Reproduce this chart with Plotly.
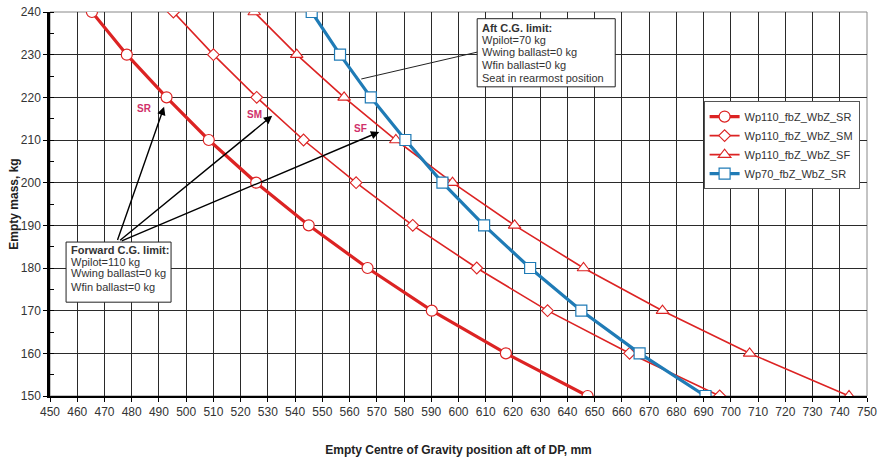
import plotly.graph_objects as go

mass = [240, 230, 220, 210, 200, 190, 180, 170, 160, 150]
cg_sr = [465.4, 478.2, 492.8, 508.3, 525.7, 545.0, 566.6, 590.2, 617.4, 647.4]
cg_sm = [495.3, 510.0, 525.9, 543.1, 562.4, 583.2, 606.7, 632.7, 662.8, 695.9]
cg_sf = [525.0, 540.6, 558.0, 577.0, 597.8, 620.6, 645.9, 674.9, 706.9, 743.4]
cg_70 = [546.1, 556.5, 567.8, 580.5, 594.1, 609.4, 626.3, 645.1, 666.5, 690.7]

names = ["Wp110_fbZ_WbZ_SR", "Wp110_fbZ_WbZ_SM", "Wp110_fbZ_WbZ_SF", "Wp70_fbZ_WbZ_SR"]
x_ticks = list(range(450, 751, 10))
y_ticks = list(range(150, 241, 10))

fwd_lines = ["<b>Forward C.G. limit:</b>", "Wpilot=110 kg", "Wwing ballast=0 kg", "Wfin ballast=0 kg"]
aft_lines = ["<b>Aft C.G. limit:</b>", "Wpilot=70 kg", "Wwing ballast=0 kg", "Wfin ballast=0 kg",
             "Seat in rearmost position"]

RED = "#dc2323"
BLUE = "#1f7bb6"
LABEL = "#d0306a"

fig = go.Figure()
fig.add_trace(go.Scatter(x=cg_sr, y=mass, name=names[0], mode="lines+markers",
                         line=dict(color=RED, width=3.2),
                         marker=dict(symbol="circle", size=11, color="white",
                                     line=dict(color=RED, width=1.2))))
fig.add_trace(go.Scatter(x=cg_sm, y=mass, name=names[1], mode="lines+markers",
                         line=dict(color=RED, width=1.6),
                         marker=dict(symbol="diamond", size=9, color="white",
                                     line=dict(color=RED, width=1.1))))
fig.add_trace(go.Scatter(x=cg_sf, y=mass, name=names[2], mode="lines+markers",
                         line=dict(color=RED, width=1.6),
                         marker=dict(symbol="triangle-up", size=11, color="white",
                                     line=dict(color=RED, width=1.1))))
fig.add_trace(go.Scatter(x=cg_70, y=mass, name=names[3], mode="lines+markers",
                         line=dict(color=BLUE, width=3.2),
                         marker=dict(symbol="square", size=11, color="white",
                                     line=dict(color=BLUE, width=1.2))))

font_family = "Liberation Sans, Arial, sans-serif"

annotations = [
    dict(x=484.7, y=217.4, text="<b>SR</b>", showarrow=False, font=dict(size=10, color=LABEL)),
    dict(x=525.0, y=215.9, text="<b>SM</b>", showarrow=False, font=dict(size=10, color=LABEL)),
    dict(x=563.9, y=212.8, text="<b>SF</b>", showarrow=False, font=dict(size=10, color=LABEL)),
    # arrows from forward box
    dict(x=491.9, y=217.8, ax=474.6, ay=186.2, axref="x", ayref="y", text="", showarrow=True,
         arrowhead=2, arrowsize=1.2, arrowwidth=1.4, arrowcolor="black"),
    dict(x=531.6, y=215.7, ax=475.2, ay=186.2, axref="x", ayref="y", text="", showarrow=True,
         arrowhead=2, arrowsize=1.2, arrowwidth=1.4, arrowcolor="black"),
    dict(x=570.9, y=211.9, ax=475.8, ay=186.2, axref="x", ayref="y", text="", showarrow=True,
         arrowhead=2, arrowsize=1.2, arrowwidth=1.4, arrowcolor="black"),
]

fwd_y = [184.2, 181.46, 178.73, 175.59]
for txt, yy in zip(fwd_lines, fwd_y):
    annotations.append(dict(x=457.1, y=yy, xanchor="left", yanchor="middle", showarrow=False,
                            text=txt, font=dict(size=11, color="#333")))
aft_y = [236.24, 233.33, 230.52, 227.56, 224.51]
for txt, yy in zip(aft_lines, aft_y):
    annotations.append(dict(x=608.0, y=yy, xanchor="left", yanchor="middle", showarrow=False,
                            text=txt, font=dict(size=11, color="#333")))

shapes = [
    dict(type="rect", xref="x", yref="y", x0=455.9, x1=494.45, y0=171.99, y1=186.08,
         fillcolor="white", line=dict(color="#222", width=1), layer="above"),
    dict(type="rect", xref="x", yref="y", x0=606.86, x1=657.55, y0=222.46, y1=238.43,
         fillcolor="white", line=dict(color="#222", width=1), layer="above"),
    dict(type="line", xref="x", yref="y", x0=606.86, y0=230.6, x1=564.3, y1=224.3,
         line=dict(color="#222", width=1)),
    dict(type="rect", xref="paper", yref="paper", x0=0, y0=0, x1=1, y1=1,
         line=dict(color="#888", width=1), layer="below"),
]

fig.update_layout(
    width=884, height=457,
    margin=dict(l=50, r=17, t=12, b=61),
    paper_bgcolor="white", plot_bgcolor="white",
    font=dict(family=font_family, size=12, color="#333"),
    showlegend=True,
    legend=dict(x=0.8, y=0.768, xanchor="left", yanchor="top",
                bgcolor="white", bordercolor="#555", borderwidth=1,
                font=dict(size=11, color="#333"), tracegroupgap=0,
                itemwidth=30),
    annotations=annotations,
    shapes=shapes,
)

fig.update_xaxes(range=[450, 750], tickvals=x_ticks, ticktext=[str(v) for v in x_ticks],
                 automargin=False,
                 showgrid=True, gridcolor="#2a2a2a", gridwidth=1,
                 showline=True, linecolor="black", linewidth=2, mirror=False,
                 ticks="outside", ticklen=4, tickcolor="black",
                 zeroline=False,
                 title=dict(text="<b>Empty Centre of Gravity position aft of DP, mm</b>",
                            font=dict(size=12, color="#222"), standoff=28))
fig.update_yaxes(range=[150, 240], tickvals=y_ticks, ticktext=[str(v) for v in y_ticks],
                 automargin=False,
                 showgrid=True, gridcolor="#2a2a2a", gridwidth=1,
                 showline=True, linecolor="black", linewidth=2.5,
                 ticks="outside", ticklen=4, tickcolor="black",
                 minor=dict(dtick=5, ticks="inside", ticklen=4, tickcolor="black", showgrid=False),
                 zeroline=False,
                 title=dict(text="<b>Empty mass, kg</b>", font=dict(size=12, color="#222"),
                            standoff=0))

fig.write_html("out.html", config={"displayModeBar": False},
               post_script="document.body.style.margin='0';document.body.style.overflow='hidden';")
